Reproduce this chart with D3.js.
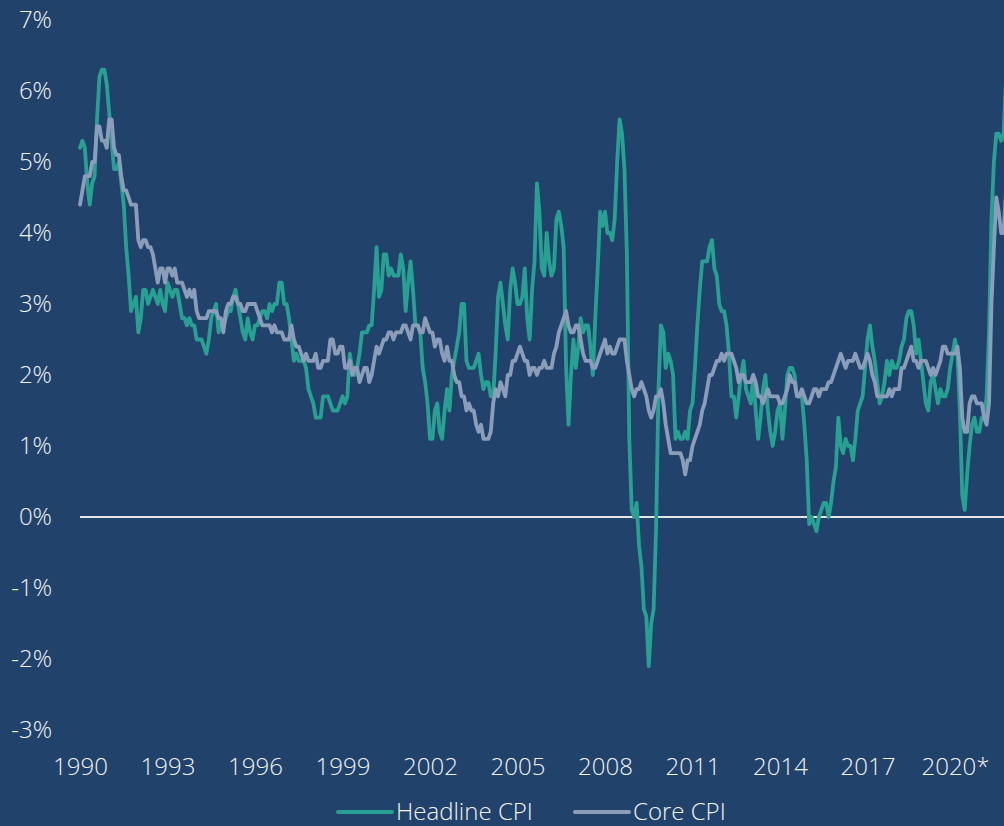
<!DOCTYPE html>
<html lang="en">
	<head>
		<meta charset="utf-8">
		<title>headline vs core cpi</title>
		<script type="text/javascript" src="https://d3js.org/d3.v7.min.js"></script>
		<style type="text/css">
            body{margin:0;background:#21426b;}
            svg{display:block;}
            text{font-family:"Open Sans",sans-serif;font-weight:300;fill:#f2f2f2;}
		</style>
	</head>
	<body>
    <div id="chart1"></div>
		 <script type="text/javascript">
            // monthly y/y %, Jan 1990 onward (one row per year)
            var headline = [
                5.2,5.3,5.2,4.7,4.4,4.7,4.8,5.6,6.2,6.3,6.3,6.1,
                5.7,5.3,4.9,4.9,5.0,4.7,4.4,3.8,3.4,2.9,3.0,3.1,
                2.6,2.8,3.2,3.2,3.0,3.1,3.2,3.1,3.0,3.2,3.0,2.9,
                3.3,3.2,3.1,3.2,3.2,3.0,2.8,2.8,2.7,2.8,2.7,2.7,
                2.5,2.5,2.5,2.4,2.3,2.5,2.8,2.9,3.0,2.6,2.7,2.7,
                2.8,2.9,2.9,3.1,3.2,3.0,2.8,2.6,2.5,2.8,2.6,2.5,
                2.7,2.7,2.8,2.9,2.9,2.8,3.0,2.9,3.0,3.0,3.3,3.3,
                3.0,3.0,2.8,2.5,2.2,2.3,2.2,2.2,2.2,2.1,1.8,1.7,
                1.6,1.4,1.4,1.4,1.7,1.7,1.7,1.6,1.5,1.5,1.5,1.6,
                1.7,1.6,1.7,2.3,2.1,2.0,2.1,2.3,2.6,2.6,2.6,2.7,
                2.7,3.2,3.8,3.1,3.2,3.7,3.7,3.4,3.5,3.4,3.4,3.4,
                3.7,3.5,2.9,3.3,3.6,3.2,2.7,2.7,2.6,2.1,1.9,1.6,
                1.1,1.1,1.5,1.6,1.2,1.1,1.5,1.8,1.5,2.0,2.2,2.4,
                2.6,3.0,3.0,2.2,2.1,2.1,2.1,2.2,2.3,2.0,1.8,1.9,
                1.9,1.7,1.7,2.3,3.1,3.3,3.0,2.7,2.5,3.2,3.5,3.3,
                3.0,3.0,3.1,3.5,2.8,2.5,3.2,3.6,4.7,4.3,3.5,3.4,
                4.0,3.6,3.4,3.5,4.2,4.3,4.1,3.8,2.1,1.3,2.0,2.5,
                2.1,2.4,2.8,2.6,2.7,2.7,2.4,2.0,2.8,3.5,4.3,4.1,
                4.3,4.0,4.0,3.9,4.2,5.0,5.6,5.4,4.9,3.7,1.1,0.1,
                0.0,0.2,-0.4,-0.7,-1.3,-1.4,-2.1,-1.5,-1.3,-0.2,1.8,2.7,
                2.6,2.1,2.3,2.2,2.0,1.1,1.2,1.1,1.1,1.2,1.1,1.5,
                1.6,2.1,2.7,3.2,3.6,3.6,3.6,3.8,3.9,3.5,3.4,3.0,
                2.9,2.9,2.7,2.3,1.7,1.7,1.4,1.7,2.0,2.2,1.8,1.7,
                1.6,2.0,1.5,1.1,1.4,1.8,2.0,1.5,1.2,1.0,1.2,1.5,
                1.6,1.1,1.5,2.0,2.1,2.1,2.0,1.7,1.7,1.7,1.3,0.8,
                -0.1,0.0,-0.1,-0.2,0.0,0.1,0.2,0.2,0.0,0.2,0.5,0.7,
                1.4,1.0,0.9,1.1,1.0,1.0,0.8,1.1,1.5,1.6,1.7,2.1,
                2.5,2.7,2.4,2.2,1.9,1.6,1.7,1.9,2.2,2.0,2.2,2.1,
                2.1,2.2,2.4,2.5,2.8,2.9,2.9,2.7,2.3,2.5,2.2,1.9,
                1.6,1.5,1.9,2.0,1.8,1.6,1.8,1.7,1.7,1.8,2.1,2.3,
                2.5,2.3,1.5,0.3,0.1,0.6,1.0,1.3,1.4,1.2,1.2,1.4,
                1.4,1.7,2.6,4.2,5.0,5.4,5.4,5.3,5.4,6.2
            ]
            var core = [
                4.4,4.6,4.8,4.8,4.8,5.0,5.0,5.5,5.5,5.3,5.3,5.2,
                5.6,5.6,5.2,5.1,5.1,4.8,4.6,4.6,4.5,4.4,4.4,4.4,
                3.9,3.8,3.9,3.9,3.8,3.8,3.7,3.5,3.3,3.5,3.5,3.3,
                3.5,3.5,3.4,3.5,3.3,3.3,3.3,3.2,3.1,3.2,3.1,3.2,
                2.9,2.8,2.8,2.8,2.8,2.9,2.9,2.9,2.9,2.8,2.8,2.6,
                2.9,3.0,3.0,3.1,3.1,3.0,3.0,2.9,2.9,3.0,3.0,3.0,
                3.0,2.9,2.8,2.7,2.7,2.7,2.7,2.6,2.7,2.6,2.6,2.6,
                2.5,2.5,2.5,2.7,2.5,2.4,2.4,2.3,2.2,2.3,2.2,2.2,
                2.2,2.3,2.1,2.1,2.2,2.2,2.2,2.5,2.5,2.3,2.3,2.4,
                2.4,2.1,2.1,2.2,2.0,2.1,2.1,1.9,2.0,2.1,2.1,1.9,
                2.0,2.2,2.4,2.3,2.4,2.5,2.5,2.6,2.6,2.5,2.6,2.6,
                2.6,2.7,2.7,2.6,2.5,2.7,2.7,2.7,2.6,2.6,2.8,2.7,
                2.6,2.6,2.4,2.5,2.5,2.3,2.2,2.4,2.2,2.2,2.0,1.9,
                1.9,1.7,1.7,1.5,1.6,1.5,1.5,1.3,1.2,1.3,1.1,1.1,
                1.1,1.2,1.6,1.8,1.7,1.9,1.8,1.7,2.0,2.0,2.2,2.2,
                2.3,2.4,2.3,2.2,2.2,2.0,2.1,2.1,2.0,2.1,2.1,2.2,
                2.1,2.1,2.1,2.3,2.4,2.6,2.7,2.8,2.9,2.7,2.6,2.6,
                2.7,2.7,2.5,2.3,2.2,2.2,2.2,2.1,2.1,2.2,2.3,2.4,
                2.5,2.3,2.4,2.3,2.3,2.4,2.5,2.5,2.5,2.2,2.0,1.8,
                1.7,1.8,1.8,1.9,1.8,1.7,1.5,1.4,1.5,1.7,1.7,1.8,
                1.6,1.3,1.1,0.9,0.9,0.9,0.9,0.9,0.8,0.6,0.8,0.8,
                1.0,1.1,1.2,1.3,1.5,1.6,1.8,2.0,2.0,2.1,2.2,2.2,
                2.3,2.2,2.3,2.3,2.3,2.2,2.1,1.9,2.0,2.0,1.9,1.9,
                1.9,2.0,1.9,1.7,1.7,1.6,1.7,1.8,1.7,1.7,1.7,1.7,
                1.6,1.6,1.7,1.8,2.0,1.9,1.9,1.7,1.7,1.8,1.7,1.6,
                1.6,1.7,1.8,1.8,1.7,1.8,1.8,1.8,1.9,1.9,2.0,2.1,
                2.2,2.3,2.2,2.1,2.2,2.2,2.2,2.3,2.2,2.1,2.1,2.2,
                2.3,2.2,2.0,1.9,1.7,1.7,1.7,1.7,1.7,1.8,1.7,1.8,
                1.8,1.8,2.1,2.1,2.2,2.3,2.4,2.2,2.2,2.1,2.2,2.2,
                2.2,2.1,2.0,2.1,2.0,2.1,2.2,2.4,2.4,2.3,2.3,2.3,
                2.3,2.4,2.1,1.4,1.2,1.2,1.6,1.7,1.7,1.6,1.6,1.6,
                1.4,1.3,1.6,3.0,3.8,4.5,4.3,4.0,4.0,4.6
            ]
            var startYear = 1990
            var yearTicks = [1990,1993,1996,1999,2002,2005,2008,2011,2014,2017,2020]
            var pctTicks = [7,6,5,4,3,2,1,0,-1,-2,-3]
            var seriesNames = ["Headline CPI","Core CPI"]
            var seriesColors = ["#28a092","#8c9db9"]

            var w = 1004
            var h = 826

            var svg = d3.select("#chart1")
                        .append("svg")
                        .attr("width",w)
                        .attr("height",h)

            svg.append("rect").attr("width",w).attr("height",h).attr("fill","#21426b")

            // month index -> x, 2.43px per month
            var xScale = d3.scaleLinear().domain([0,360]).range([80,955])
            var yScale = d3.scaleLinear().domain([-3,7]).range([730,20])

            // y labels
            var yAxis = d3.axisLeft(yScale)
                .tickValues(pctTicks)
                .tickSize(0)
                .tickPadding(0)
                .tickFormat(function(d){return d+"%"})
            svg.append("g")
                .attr("class","axis")
                .attr("transform","translate(52,0)")
                .call(yAxis)
                .call(function(g){g.select(".domain").remove()})
                .selectAll("text")
                .attr("font-size",24)
                .attr("fill","#eeeeee")
                .attr("font-family",null)

            // x labels every 3 years
            var xAxis = d3.axisBottom(xScale)
                .tickValues(yearTicks.map(function(y){return (y-startYear)*12}))
                .tickSize(0)
                .tickPadding(0)
                .tickFormat(function(d){
                    var yr = startYear + d/12
                    return yr==2020 ? yr+"*" : yr
                })
            svg.append("g")
                .attr("class","axis")
                .attr("transform","translate(0,758)")
                .call(xAxis)
                .call(function(g){g.select(".domain").remove()})
                .selectAll("text")
                .attr("font-size",24)
                .attr("fill","#eeeeee")
                .attr("font-family",null)

            // zero line
            svg.append("line")
                .attr("x1",xScale(0)).attr("x2",w)
                .attr("y1",yScale(0)).attr("y2",yScale(0))
                .attr("stroke","#e6e6e6")
                .attr("stroke-width",2)

            var line = d3.line()
                .x(function(d,i){return xScale(i)})
                .y(function(d){return yScale(d)})

            svg.selectAll(".series")
                .data([headline,core])
                .enter()
                .append("path")
                .attr("class","series")
                .attr("d",line)
                .attr("fill","none")
                .attr("stroke",function(d,i){return seriesColors[i]})
                .attr("stroke-width",3.8)
                .attr("stroke-linejoin","round")
                .attr("stroke-linecap","round")

            // legend
            var legendX = [338,575]
            var lg = svg.selectAll(".legend")
                .data(seriesNames)
                .enter()
                .append("g")
                .attr("class","legend")
                .attr("transform",function(d,i){return "translate("+legendX[i]+",812)"})
            lg.append("line")
                .attr("x1",0).attr("x2",54)
                .attr("stroke",function(d,i){return seriesColors[i]})
                .attr("stroke-width",4)
                .attr("stroke-linecap","round")
            lg.append("text")
                .attr("x",58)
                .attr("y",8)
                .attr("font-size",24)
                .attr("fill","#eeeeee")
                .text(function(d){return d})
		</script>
	</body>
</html>
